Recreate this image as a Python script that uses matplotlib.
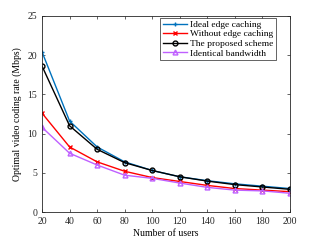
import numpy as np
import matplotlib.pyplot as plt

plt.rcParams['font.family'] = ['Liberation Serif', 'DejaVu Serif']

users = [20, 40, 60, 80, 100, 120, 140, 160, 180, 200]
ideal = [20.4, 11.6, 8.3, 6.4, 5.3, 4.5, 4.0, 3.6, 3.3, 3.0]
without = [12.6, 8.3, 6.4, 5.2, 4.4, 3.9, 3.4, 3.0, 2.8, 2.6]
proposed = [18.6, 11.0, 8.0, 6.3, 5.3, 4.5, 3.95, 3.5, 3.2, 2.9]
identical = [10.8, 7.5, 6.0, 4.7, 4.3, 3.7, 3.15, 2.8, 2.7, 2.4]

fig = plt.figure(figsize=(3.21, 2.41), dpi=100)
ax = fig.add_axes([0.131, 0.120, 0.772, 0.814])

ax.plot(users, ideal, color='#0072BD', marker='+', markersize=3.5, linewidth=1, label='Ideal edge caching')
ax.plot(users, without, color='#FF0000', marker='x', markersize=2.5, linewidth=1, label='Without edge caching')
ax.plot(users, proposed, color='black', marker='o', markersize=3.5, markerfacecolor='none', linewidth=1, label='The proposed scheme')
ax.plot(users, identical, color='#BF5FFF', marker='^', markersize=3.5, markerfacecolor='none', linewidth=1, label='Identical bandwidth')

ax.set_xlim(20, 200)
ax.set_ylim(0, 25)
ax.set_xticks(users)
ax.set_yticks([0, 5, 10, 15, 20, 25])
ax.tick_params(direction='in', top=True, right=True, labelsize=7, length=2.5, width=0.5, colors='#262626')
for s in ax.spines.values():
    s.set_linewidth(0.6)
    s.set_color('#262626')
ax.set_xlabel('Number of users', fontsize=7, labelpad=2)
ax.set_ylabel('Optimal video coding rate (Mbps)', fontsize=7, labelpad=4)

leg = ax.legend(loc='upper right', bbox_to_anchor=(0.944, 0.99), fontsize=6.8, fancybox=False,
                edgecolor='#262626', framealpha=1, handlelength=2.6, borderpad=0.25,
                labelspacing=0.1, handletextpad=0.3, borderaxespad=0)
leg.get_frame().set_linewidth(0.5)

fig.savefig('out.png', dpi=100)
